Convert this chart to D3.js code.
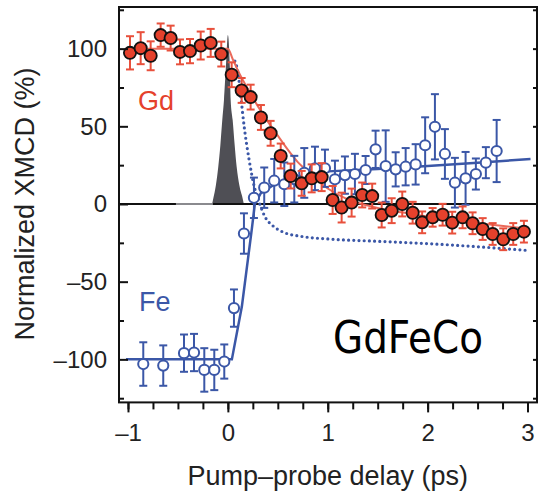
<!DOCTYPE html>
<html lang="en">
<head>
<meta charset="utf-8">
<script src="https://d3js.org/d3.v7.min.js"></script>
<style type="text/css">
body {
    margin: 0;
    background: #fff;
}
text {
    font-family: "Liberation Sans", Arial, sans-serif;
}
.axis text {
    font-size: 24px;
    fill: #222;
}
.axis line {
    stroke: #111;
    stroke-width: 2;
}
</style>
</head>
<body>
<div id="chart"></div>
<script type="text/javascript">

// Gd (filled red) - delay in ps, XMCD %, error bar half height
var gdDelay = [-0.98, -0.873, -0.773, -0.673, -0.573, -0.479, -0.379, -0.272, -0.172, -0.066,
               0.038, 0.138, 0.228, 0.331, 0.428, 0.529, 0.629, 0.739, 0.839, 0.939,
               1.049, 1.139, 1.239, 1.345, 1.445, 1.54, 1.64, 1.746, 1.85, 1.945,
               2.05, 2.15, 2.246, 2.35, 2.45, 2.551, 2.651, 2.757, 2.857, 2.964];
var gdValue = [97.3, 100.3, 95.4, 108.7, 106.8, 97.9, 98.4, 102, 103.7, 96.5,
               83.2, 73.1, 68.8, 55.7, 45.5, 30.9, 18.0, 13.3, 16.5, 17.3,
               2.6, -2.3, 0.9, 5.8, 5.1, -7.1, -4.3, 0, -5.6, -11.8,
               -8.6, -6.9, -12.0, -8.6, -12.4, -16.1, -19.3, -22.7, -19.3, -17.8];
var gdError = [10.7, 10.3, 9.3, 7.5, 8, 8, 7.8, 9, 9, 8,
               8, 8, 8, 8, 8, 8, 8, 8, 9, 9,
               9, 9.6, 9, 8, 8, 8, 8, 8, 7, 7,
               6, 7, 7, 7, 7, 7, 7, 7, 7, 7];

// Fe (open blue)
var feDelay = [-0.847, -0.647, -0.439, -0.339, -0.236, -0.136, -0.036, 0.061, 0.161, 0.261,
               0.364, 0.464, 0.565, 0.665, 0.765, 0.872, 0.972, 1.072, 1.172, 1.272,
               1.379, 1.479, 1.58, 1.68, 1.78, 1.88, 1.975, 2.073, 2.173, 2.273,
               2.38, 2.483, 2.583, 2.691];
var feValue = [-103, -104, -96, -95.6, -106.8, -106.8, -101.4, -67, -19, 4,
               10.5, 15, 12.7, 16, 20, 22.9, 23, 15.9, 18.6, 19.3,
               21.9, 35.2, 24.4, 22.3, 24, 25.5, 37.8, 49.7, 32.2, 13.7,
               16.5, 19.3, 26.6, 34.1];
var feError = [14, 13, 12, 12, 14, 13, 11, 12, 13, 13,
               13, 14, 14, 15, 16, 14, 12, 12, 12, 13,
               9, 12, 23, 11, 12, 13, 18, 21, 16, 16,
               17, 10, 10, 20];

// fit curves
var gdFitDelay = [-1.02, 0, 0.05, 0.1, 0.2, 0.3, 0.4, 0.5, 0.6, 0.7, 0.8, 0.9, 1.0, 1.2, 1.4, 1.6, 1.8, 2.0, 2.3, 2.6, 3.0];
var gdFitValue = [100, 100, 93, 86, 74, 63, 53, 44, 35, 27, 21, 15, 10, 3, -1, -4, -6, -8, -10.5, -13, -16];

var feFitDelay = [-1.02, 0.04, 0.14, 0.24, 0.27, 0.33, 0.45, 0.6, 0.8, 1.0, 1.5, 2.0, 2.5, 3.03];
var feFitValue = [-100, -100, -66, -16, 0, 7, 12, 16, 19, 21, 22.5, 24.5, 26.5, 29];

var dotDelay = [0.07, 0.1, 0.128, 0.163, 0.214, 0.265, 0.317, 0.37, 0.45, 0.55, 0.75, 1.0, 1.5, 2.0, 2.5, 3.02];
var dotValue = [92, 85, 70, 50, 28, 11, 0.5, -8, -14, -18, -21, -22.5, -24, -25.5, -27.5, -30];

// pump pulse
var pulseDelay = [-0.52, -0.16, -0.146, -0.12, -0.096, -0.075, -0.056, -0.039, -0.02, 0, 0.02, 0.028, 0.048, 0.068, 0.088, 0.115, 0.148, 0.16];
var pulseValue = [0, 0, 3.6, 12, 24, 38, 54, 67, 88, 108.7, 88, 67, 54, 38, 24, 12, 3.6, 0];

var xMajor = [-1, 0, 1, 2, 3];
var xMinor = d3.range(-1, 3.01, 0.25);
var yMajor = [-100, -50, 0, 50, 100];
var yMinor = [-125, -75, -25, 25, 75, 125];

var width = 540, height = 491;
var red = "#e5412c", redBar = "#e8503c", redFit = "#ea6a5b";
var blue = "#3b57a7";

var svg = d3.select("#chart").append("svg")
    .attr("width", width)
    .attr("height", height);

var x = d3.scaleLinear().domain([-1.09, 3.095]).range([119, 537]);
var y = d3.scaleLinear().domain([-127.7, 126.8]).range([402.4, 7]);

function dash(v) { return v < 0 ? "\u2013" + Math.abs(v) : "" + v; }

// pulse
var pulse = pulseDelay.map(function(d, i) { return [d, pulseValue[i]]; });
svg.append("path")
    .datum(pulse)
    .attr("d", d3.area().x(function(d) { return x(d[0]); }).y0(y(0)).y1(function(d) { return y(d[1]); }).curve(d3.curveMonotoneX))
    .attr("fill", "#4f4f55");

// zero line
svg.append("line")
    .attr("x1", x.range()[0]).attr("x2", x.range()[1])
    .attr("y1", y(0)).attr("y2", y(0))
    .attr("stroke", "#111").attr("stroke-width", 2);
svg.append("line")
    .attr("x1", x(-0.52)).attr("x2", x(-0.15))
    .attr("y1", y(0)).attr("y2", y(0))
    .attr("stroke", "#8a8a8e").attr("stroke-width", 2);

var line = d3.line().x(function(d) { return x(d[0]); }).y(function(d) { return y(d[1]); });

// dotted model line
svg.append("path")
    .datum(dotDelay.map(function(d, i) { return [d, dotValue[i]]; }))
    .attr("d", line.curve(d3.curveMonotoneX))
    .attr("fill", "none")
    .attr("stroke", blue)
    .attr("stroke-width", 3.2)
    .attr("stroke-linecap", "round")
    .attr("stroke-dasharray", "0 5.2");

// Fe fit
svg.append("path")
    .datum(feFitDelay.map(function(d, i) { return [d, feFitValue[i]]; }))
    .attr("d", line.curve(d3.curveLinear))
    .attr("fill", "none")
    .attr("stroke", blue)
    .attr("stroke-width", 2.5);

// Gd fit
svg.append("path")
    .datum(gdFitDelay.map(function(d, i) { return [d, gdFitValue[i]]; }))
    .attr("d", line.curve(d3.curveMonotoneX))
    .attr("fill", "none")
    .attr("stroke", redFit)
    .attr("stroke-width", 2);

function errorBars(delay, value, err, color) {
    var g = svg.append("g").attr("stroke", color).attr("stroke-width", 2).attr("fill", "none");
    delay.forEach(function(d, i) {
        var cx = x(d), top = y(value[i] + err[i]), bot = y(value[i] - err[i]);
        g.append("line").attr("x1", cx).attr("x2", cx).attr("y1", top).attr("y2", bot);
        g.append("line").attr("x1", cx - 4).attr("x2", cx + 4).attr("y1", top).attr("y2", top);
        g.append("line").attr("x1", cx - 4).attr("x2", cx + 4).attr("y1", bot).attr("y2", bot);
    });
}

errorBars(feDelay, feValue, feError, blue);

svg.append("g").selectAll("circle")
    .data(feDelay)
    .enter()
    .append("circle")
    .attr("cx", function(d) { return x(d); })
    .attr("cy", function(d, i) { return y(feValue[i]); })
    .attr("r", 5.1)
    .attr("fill", "#fff")
    .attr("stroke", blue)
    .attr("stroke-width", 2);

errorBars(gdDelay, gdValue, gdError, redBar);

svg.append("g").selectAll("circle")
    .data(gdDelay)
    .enter()
    .append("circle")
    .attr("cx", function(d) { return x(d); })
    .attr("cy", function(d, i) { return y(gdValue[i]); })
    .attr("r", 6.1)
    .attr("fill", red)
    .attr("stroke", "#111")
    .attr("stroke-width", 1.8);

// frame
svg.append("rect")
    .attr("x", x.range()[0]).attr("y", y.range()[1])
    .attr("width", x.range()[1] - x.range()[0])
    .attr("height", y.range()[0] - y.range()[1])
    .attr("fill", "none")
    .attr("stroke", "#111")
    .attr("stroke-width", 2);

// bottom axis: minor then major
svg.append("g").attr("class", "axis")
    .attr("transform", "translate(0," + y.range()[0] + ")")
    .call(d3.axisBottom(x).tickValues(xMinor).tickSize(7).tickFormat(""))
    .call(function(g) { g.select(".domain").remove(); });
svg.append("g").attr("class", "axis")
    .attr("transform", "translate(0," + y.range()[0] + ")")
    .call(d3.axisBottom(x).tickValues(xMajor).tickSize(10).tickPadding(12).tickFormat(dash))
    .call(function(g) { g.select(".domain").remove(); });

// left axis, ticks inside
svg.append("g").attr("class", "axis")
    .attr("transform", "translate(" + x.range()[0] + ",0)")
    .call(d3.axisLeft(y).tickValues(yMinor.filter(function(v) { return Math.abs(v) < 126; })).tickSize(-5).tickFormat(""))
    .call(function(g) { g.select(".domain").remove(); });
svg.append("g").attr("class", "axis")
    .attr("transform", "translate(" + x.range()[0] + ",0)")
    .call(d3.axisLeft(y).tickValues(yMajor).tickSize(-9).tickPadding(12).tickFormat(dash))
    .call(function(g) { g.select(".domain").remove(); });

// right axis
svg.append("g").attr("class", "axis")
    .attr("transform", "translate(" + x.range()[1] + ",0)")
    .call(d3.axisRight(y).tickValues([-125, -100, -75, -50, -25, 25, 50, 75, 100, 125].filter(function(v) { return Math.abs(v) < 126; })).tickSize(-4).tickFormat(""))
    .call(function(g) { g.select(".domain").remove(); });

// axis titles
svg.append("text")
    .attr("x", (x(-1) + x(3)) / 2)
    .attr("y", 485)
    .attr("text-anchor", "middle")
    .style("font-size", "27px")
    .attr("fill", "#222")
    .text("Pump\u2013probe delay (ps)");

svg.append("text")
    .attr("transform", "translate(34," + y(0) + ") rotate(-90)")
    .attr("text-anchor", "middle")
    .style("font-size", "27px")
    .attr("fill", "#222")
    .text("Normalized XMCD (%)");

// series labels
svg.append("text").attr("x", 138).attr("y", 109.5)
    .style("font-size", "27px").attr("fill", red).text("Gd");
svg.append("text").attr("x", 139).attr("y", 310.5)
    .style("font-size", "27px").attr("fill", blue).text("Fe");

svg.append("text")
    .attr("x", 333).attr("y", 353)
    .attr("textLength", 150)
    .attr("lengthAdjust", "spacingAndGlyphs")
    .style("font-family", "'DejaVu Sans', sans-serif")
    .style("font-size", "44px")
    .attr("fill", "#000")
    .text("GdFeCo");

</script>
</body>
</html>
